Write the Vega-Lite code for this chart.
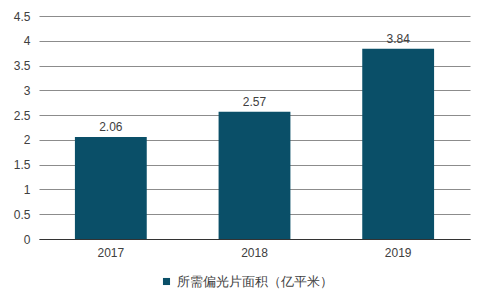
{
  "$schema": "https://vega.github.io/schema/vega-lite/v6.json",
  "autosize": {"type": "none"},
  "width": 431,
  "height": 223,
  "padding": {"left": 39, "top": 16, "right": 18, "bottom": 67},
  "background": "white",
  "config": {
    "view": {"stroke": null},
    "font": "Liberation Sans",
    "axis": {"labelFont": "Liberation Sans", "labelFontSize": 12, "labelColor": "#404040"},
    "legend": {"labelFont": "Liberation Sans", "labelFontSize": 13, "labelColor": "#404040"}
  },
  "data": {
    "values": [
      {"year": "2017", "value": 2.06, "series": "所需偏光片面积（亿平米）"},
      {"year": "2018", "value": 2.57, "series": "所需偏光片面积（亿平米）"},
      {"year": "2019", "value": 3.84, "series": "所需偏光片面积（亿平米）"}
    ]
  },
  "encoding": {
    "x": {
      "field": "year", "type": "nominal",
      "scale": {"paddingInner": 0.5, "paddingOuter": 0.25},
      "axis": {"title": null, "labelAngle": 0, "ticks": false, "domainColor": "#333333", "domainWidth": 1, "labelPadding": 8}
    },
    "y": {
      "field": "value", "type": "quantitative",
      "scale": {"domain": [0, 4.5]},
      "axis": {"title": null, "values": [0, 0.5, 1, 1.5, 2, 2.5, 3, 3.5, 4, 4.5], "format": "~g", "domain": false, "ticks": false, "labelPadding": 9, "gridColor": "#8c8c8c", "gridWidth": 1}
    }
  },
  "layer": [
    {
      "mark": {"type": "bar", "color": "#0a4f68"},
      "encoding": {
        "color": {
          "field": "series", "type": "nominal",
          "scale": {"range": ["#0a4f68"]},
          "legend": {"title": null, "orient": "none", "legendX": 121, "legendY": 259, "symbolType": "square", "symbolSize": 50, "labelOffset": 4}
        }
      }
    },
    {
      "mark": {"type": "text", "dy": -10, "fontSize": 12, "color": "#404040", "font": "Liberation Sans"},
      "encoding": {"text": {"field": "value", "type": "quantitative", "format": ".2f"}}
    }
  ]
}
